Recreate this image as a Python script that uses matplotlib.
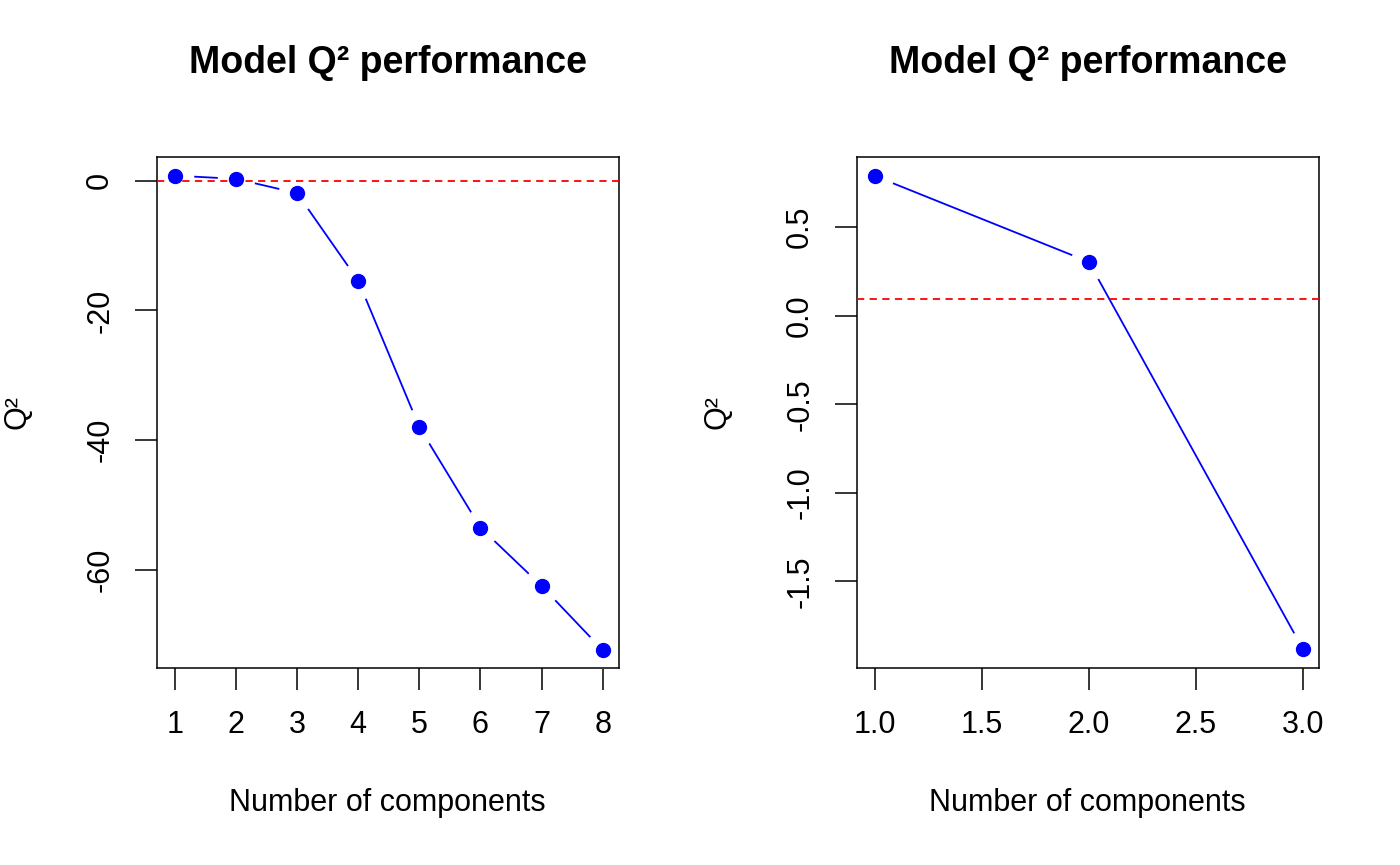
import numpy as np
import matplotlib
matplotlib.use("Agg")
from matplotlib import pyplot as plt

matplotlib.rcParams.update({"font.family": "Liberation Sans", "axes.unicode_minus": False})

# data
comps_a = [1, 2, 3, 4, 5, 6, 7, 8]
q2_a = [0.8, 0.3, -1.9, -15.4, -38.0, -53.5, -62.5, -72.4]
ref_a = 0.0

comps_b = [1, 2, 3]
q2_b = [0.79, 0.305, -1.88]
ref_b = 0.0975

fig = plt.figure(figsize=(14, 8.65), dpi=100)

def panel(rect, x, y, ref, xlim, ylim, xticks, xfmt, yticks, yfmt):
    ax = fig.add_axes(rect)
    # R type="b": line with gaps around points
    ax.plot(x, y, color="blue", lw=1.3, zorder=1)
    ax.plot(x, y, "o", ms=26, mfc="white", mec="white", zorder=2)
    ax.axhline(ref, color="red", ls=(0, (4, 3)), lw=1.3, zorder=3)
    ax.plot(x, y, "o", ms=10, color="blue", zorder=4)
    ax.set_xlim(*xlim)
    ax.set_ylim(*ylim)
    ax.set_xticks(xticks)
    ax.set_xticklabels([xfmt % t for t in xticks])
    ax.set_yticks(yticks)
    ax.set_yticklabels([yfmt % t for t in yticks], rotation=90, va="center")
    ax.tick_params(direction="out", length=16, width=1.1, labelsize=22, pad=14)
    for s in ax.spines.values():
        s.set_linewidth(1.1)
    ax.set_title("Model Q² performance", fontsize=27, fontweight="bold", pad=60)
    ax.set_xlabel("Number of components", fontsize=22, labelpad=35)
    ax.set_ylabel("Q²", fontsize=22, labelpad=38)
    return ax

panel([0.112, 0.2277, 0.33, 0.591], comps_a, q2_a, ref_a, (0.706, 8.262), (-75.15, 3.7),
      [1, 2, 3, 4, 5, 6, 7, 8], "%d", [0, -20, -40, -60], "%d")
panel([0.612, 0.2277, 0.33, 0.591], comps_b, q2_b, ref_b, (0.916, 3.075), (-1.989, 0.898),
      [1.0, 1.5, 2.0, 2.5, 3.0], "%.1f", [0.5, 0.0, -0.5, -1.0, -1.5], "%.1f")

plt.savefig("out.png")
